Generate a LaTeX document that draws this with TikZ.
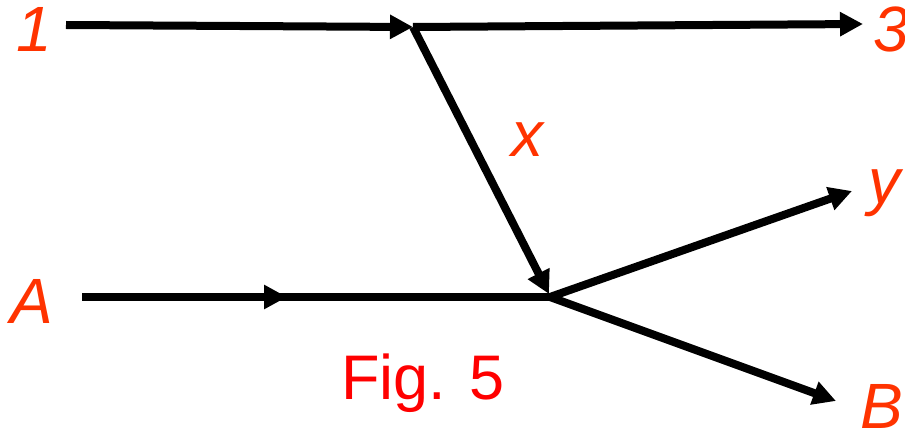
\documentclass[tikz,border=0pt]{standalone}
\usepackage{fontspec}
\setmainfont{Liberation Sans}
\usetikzlibrary{arrows.meta}
\definecolor{lab}{RGB}{255,51,0}
\definecolor{figred}{RGB}{255,0,0}
\begin{document}
\begin{tikzpicture}[x=1pt,y=-1pt,
  wire/.style={line width=8pt,black},
  arr/.style={wire,-{Triangle[length=23pt,width=23pt]}},
  lbl/.style={inner sep=0pt,text=lab,font=\fontsize{64}{64}\selectfont\itshape},
  figcaption/.style={inner sep=0pt,text=figred,font=\fontsize{63}{63}\selectfont}]
\useasboundingbox (0,0) rectangle (905,433);
% coordinates
\coordinate (s1) at (66,25);
\coordinate (j1) at (413,27);
\coordinate (e3) at (863,24);
\coordinate (tj2) at (549,294);
\coordinate (j2) at (550,297);
\coordinate (sA) at (82,297);
\coordinate (mA) at (287,297);
\coordinate (ey) at (852,191);
\coordinate (eB) at (836,401);
% connectors
\draw[arr] (s1) -- (j1);
\draw[arr] (j1) -- (e3);
\draw[arr] (j1) -- (tj2);
\draw[wire] (sA) -- (j2);
\draw[arr] (sA) -- (mA);
\draw[arr] (j2) -- (ey);
\draw[arr] (j2) -- (eB);
% labels
\node[lbl,anchor=base] (l1) at (34,52) {1};
\node[lbl,anchor=base west] (l3) at (873,52) {3};
\node[lbl,anchor=base] (lx) at (527,157) {x};
\node[lbl,anchor=base west] (ly) at (868,203) {y};
\node[lbl,anchor=base] (lA) at (32,323) {A};
\node[lbl,anchor=base west] (lB) at (860,428) {B};
\node[figcaption,anchor=base] (fig) at (423,399) {Fig. 5};
\end{tikzpicture}
\end{document}
